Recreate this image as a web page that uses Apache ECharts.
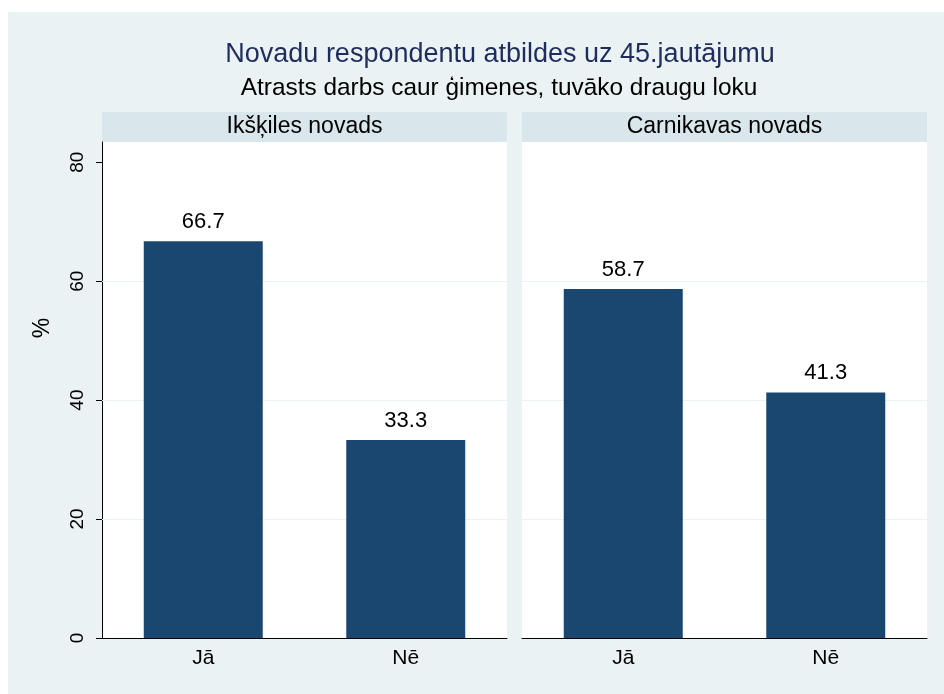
<!DOCTYPE html>
<html>
<head>
<meta charset="utf-8">
<script src="https://cdn.jsdelivr.net/npm/echarts@6/dist/echarts.min.js"></script>
<style>html,body{margin:0;padding:0;background:#fff}#c{width:944px;height:694px}</style>
</head>
<body>
<div id="c"></div>
<script>
const titleText = 'Novadu respondentu atbildes uz 45.jautājumu';
const subtitleText = 'Atrasts darbs caur ģimenes, tuvāko draugu loku';
const panels = ['Ikšķiles novads', 'Carnikavas novads'];
const categories = ['Jā', 'Nē'];
const ikskileValues = [66.7, 33.3];
const carnikavaValues = [58.7, 41.3];
const yTicks = [0, 20, 40, 60, 80];
const gridValues = [20, 40, 60];
const yAxisTitle = '%';
const yMax = 83.4;

const FONT = 'Liberation Sans, Arial, sans-serif';
const BAR = '#1a476f';
const GRIDC = '#eaf2f3';
const panelX = [102, 522];
const panelW = 405;
const plotTop = 142, plotH = 496;
const seriesData = [ikskileValues, carnikavaValues];

const chart = echarts.init(document.getElementById('c'), null, {renderer: 'canvas'});
const option = {
  backgroundColor: '#ffffff',
  animation: false,
  textStyle: {fontFamily: FONT},
  title: [
    {text: titleText, left: 495, top: 36, textAlign: 'center',
     textStyle: {fontFamily: FONT, fontSize: 27, fontWeight: 'normal', color: '#1f2d5c'}},
    {text: subtitleText, left: 494, top: 71, textAlign: 'center',
     textStyle: {fontFamily: FONT, fontSize: 24.4, fontWeight: 'normal', color: '#000'}}
  ],
  graphic: [
    {type: 'rect', shape: {x: 8, y: 12, width: 936, height: 682}, style: {fill: '#eaf2f3'}, z: -10, silent: true},
    ...panelX.map((x, i) => ({
      type: 'rect', shape: {x: x, y: 112, width: panelW, height: 30}, style: {fill: '#d9e6eb'}, z: -5, silent: true
    })),
    ...panelX.map((x, i) => ({
      type: 'text', x: x + panelW / 2, y: 127, z: 5, silent: true,
      style: {text: panels[i], font: '23px ' + FONT, fill: '#000', align: 'center', verticalAlign: 'middle'}
    })),
    {type: 'text', x: 43, y: 328, rotation: Math.PI / 2, z: 5, silent: true,
     style: {text: yAxisTitle, font: '23px ' + FONT, fill: '#000', align: 'center', verticalAlign: 'middle'}}
  ],
  grid: panelX.map(x => ({left: x, top: plotTop, width: panelW, height: plotH, show: true,
    backgroundColor: '#ffffff', borderWidth: 0, containLabel: false})),
  xAxis: panelX.map((x, i) => ({
    type: 'category', gridIndex: i, data: categories,
    axisLine: {show: true, lineStyle: {color: '#000', width: 1}},
    axisTick: {show: false},
    axisLabel: {fontSize: 21, color: '#000', margin: 10, fontFamily: FONT},
    splitLine: {show: false}
  })),
  yAxis: panelX.map((x, i) => ({
    type: 'value', gridIndex: i, min: 0, max: yMax,
    axisLine: {show: i === 0, lineStyle: {color: '#000', width: 1}},
    axisTick: {show: i === 0, length: 6, lineStyle: {color: '#000'}, customValues: yTicks},
    axisLabel: {show: i === 0, rotate: 90, fontSize: 19, color: '#000', margin: 15, customValues: yTicks, fontFamily: FONT},
    splitLine: {show: false}
  })),
  series: panelX.map((x, i) => ({
    type: 'bar', xAxisIndex: i, yAxisIndex: i, data: seriesData[i],
    barWidth: 119,
    itemStyle: {color: BAR},
    label: {show: true, position: 'top', distance: 8, fontSize: 22, color: '#000', fontFamily: FONT,
      formatter: p => p.value.toFixed(1)},
    z: 3,
    markLine: {
      silent: true, symbol: 'none', z: 1, label: {show: false},
      lineStyle: {color: GRIDC, width: 1, type: 'solid'},
      data: gridValues.map(v => ({yAxis: v}))
    }
  }))
};
chart.setOption(option);
</script>
</body>
</html>
